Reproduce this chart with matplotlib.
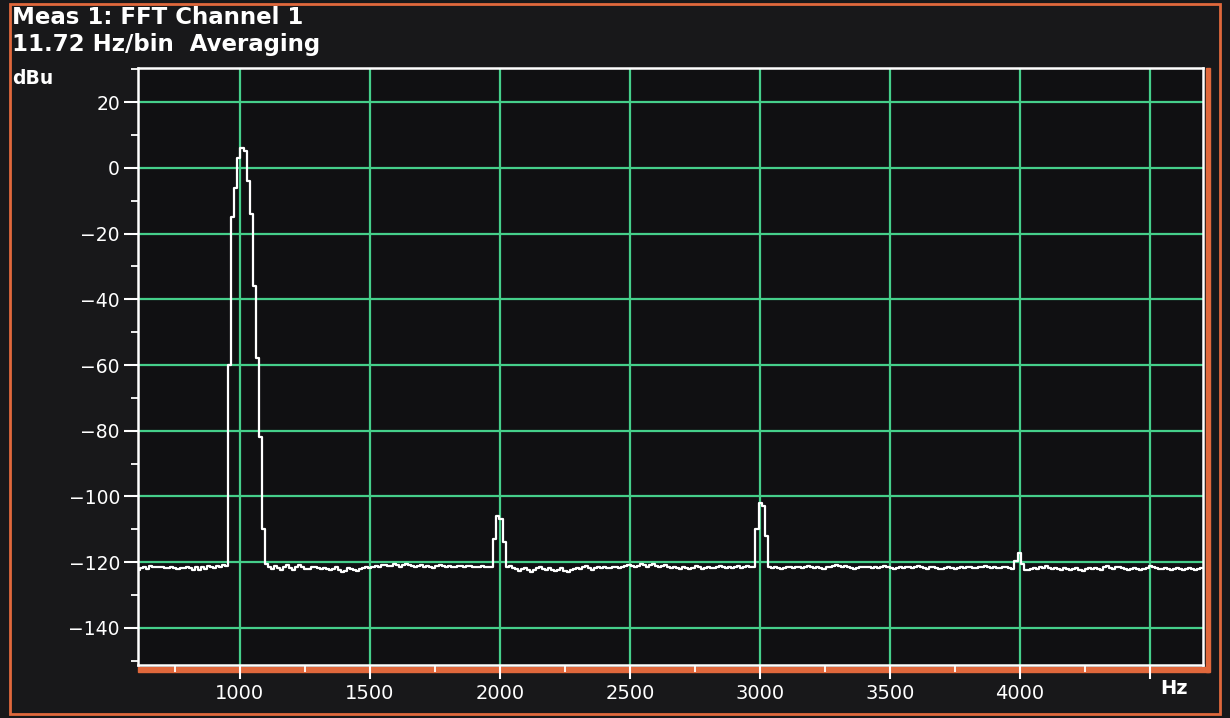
import numpy as np
import matplotlib.pyplot as plt
from matplotlib.patches import Rectangle
from matplotlib.ticker import MultipleLocator

# analyzer settings
bin_hz = 11.72
first_bin = 52

# trace levels in dBu, one per FFT bin
floor_a = [-122.5, -121.8, -121.5, -122.0, -121.2, -121.4, -121.6, -121.6, -121.5, -121.8,
           -121.7, -121.6, -121.9, -122.2, -121.8, -121.7, -121.6, -121.9, -122.4, -121.6,
           -122.3, -121.4, -122.0, -121.3, -121.5, -121.8, -121.2, -121.5, -121.0, -121.3]
peak_1k = [-60, -15, -6, 3, 6, 5, -4, -14, -36, -58, -82, -110, -120.5]
floor_b = [-121.5, -122.0, -121.2, -121.8, -122.4, -121.6, -121.0, -121.9, -122.3, -121.5,
           -120.9, -121.6, -122.2, -122.0, -121.4, -121.6, -121.8, -122.2, -121.7, -122.0,
           -122.3, -122.1, -121.6, -122.4, -122.9, -122.6, -121.8, -122.0, -122.5, -122.8,
           -122.2, -121.7, -121.5, -121.9, -121.4, -121.2, -121.6, -121.0, -120.9, -121.3,
           -121.1, -120.7, -121.0, -121.4, -120.9, -120.5, -121.0, -121.3, -121.6, -121.2,
           -121.0, -121.5, -121.1, -121.4, -121.7, -121.2, -121.0, -121.3, -121.5, -121.2,
           -121.4, -121.6, -121.3, -121.1, -121.5, -121.3, -121.2, -121.6, -121.4, -121.5,
           -121.3, -121.6, -121.4]
peak_2k = [-121.5, -113, -106, -107, -114, -121.5]
floor_c = [-121.2, -121.8, -122.0, -122.6, -122.1, -121.8, -122.4, -122.9, -122.3, -121.7,
           -121.5, -122.0, -122.4, -121.9, -122.3, -122.8, -122.4, -121.9, -122.6, -123.0,
           -122.5, -122.1, -121.8, -122.2, -121.6, -121.3, -121.7, -122.3, -121.9, -121.6,
           -121.8, -121.5, -121.7, -121.9, -121.6, -121.4, -121.8, -121.5, -121.2, -120.8,
           -121.3, -121.6, -121.2, -120.5, -120.9, -121.4, -121.0, -120.6, -121.2, -121.6,
           -121.1, -120.8, -121.5, -121.9, -121.4, -121.7, -122.0, -121.5, -121.8, -122.2,
           -121.7, -121.3, -121.6, -122.0, -121.8, -121.4, -121.7, -121.9, -121.5, -121.2,
           -121.6, -121.8, -121.4, -121.7, -121.5, -121.3, -121.8, -121.6, -121.2, -121.4]
peak_3k = [-121.5, -110, -102, -103, -112, -121.5]
floor_d = [-121.8, -121.5, -121.9, -122.1, -121.7, -121.4, -121.6, -121.9, -121.6, -121.4,
           -121.7, -121.5, -121.3, -121.6, -121.8, -121.5, -121.7, -122.0, -121.6, -121.4,
           -121.2, -120.8, -121.3, -121.6, -121.1, -121.5, -121.9, -122.2, -121.7, -121.5,
           -121.6, -121.4, -121.5, -121.7, -121.6, -121.8, -121.5, -121.3, -121.6, -121.9,
           -122.1, -121.8, -121.5, -121.7, -121.4, -121.6, -121.9, -121.5, -121.3, -121.6,
           -121.8, -122.0, -121.6, -121.4, -121.7, -122.0, -122.2, -121.8, -121.6, -121.9,
           -122.1, -121.7, -121.5, -121.8, -121.6, -121.4, -121.7, -121.9, -121.6, -121.5,
           -121.3, -121.6, -121.8, -121.5, -121.7, -121.9, -121.6, -121.4, -121.7]
peak_4k = [-122.0, -119.5, -117.3, -120.5, -122.5]
floor_e = [-122.4, -122.2, -121.8, -122.0, -121.5, -121.8, -121.3, -121.7, -122.1, -121.9,
           -122.0, -122.3, -121.8, -122.1, -122.5, -122.2, -121.9, -122.3, -122.6, -122.1,
           -121.8, -122.0, -121.7, -122.0, -122.3, -121.6, -121.3, -121.7, -122.0, -121.5,
           -121.4, -121.8, -122.1, -122.4, -122.0, -121.7, -122.0, -122.3, -122.1, -121.8,
           -121.3, -121.6, -121.9, -122.2, -122.0, -121.7, -122.1, -122.4, -122.2, -121.9,
           -122.1, -122.3, -122.0, -121.8, -122.1, -122.3, -122.1, -121.9]

x_major = [1000, 1500, 2000, 2500, 3000, 3500, 4000, 4500]
x_labels = ['1000', '1500', '2000', '2500', '3000', '3500', '4000', '']
y_major = [20, 0, -20, -40, -60, -80, -100, -120, -140]

level = np.concatenate([floor_a, peak_1k, floor_b, peak_2k, floor_c,
                        peak_3k, floor_d, peak_4k, floor_e])
freq = (first_bin + np.arange(len(level))) * bin_hz

W, H = 1230, 718
green = '#45cf8a'
orange = '#e0683c'

fig = plt.figure(figsize=(W / 100, H / 100), dpi=100, facecolor='#18181a')
ax = fig.add_axes([138 / W, 1 - 665 / H, (1203 - 138) / W, (665 - 68) / H])
ax.set_facecolor('#101012')
ax.set_zorder(2)

ax.step(freq, level, where='mid', color='white', lw=1.6, zorder=3)

ax.set_xlim(608, 4704)
ax.set_ylim(-151.3, 30.4)
ax.set_xticks(x_major)
ax.set_xticklabels(x_labels)
ax.set_yticks(y_major)
ax.xaxis.set_minor_locator(MultipleLocator(250))
ax.yaxis.set_minor_locator(MultipleLocator(10))

ax.grid(True, which='major', color=green, lw=1.6)
ax.tick_params(which='major', direction='out', length=10, width=1.5, color='white',
               labelcolor='white', labelsize=13.5, pad=3)
ax.tick_params(which='minor', direction='out', length=5, width=1.3, color='white')
ax.tick_params(axis='x', labelsize=14, pad=4)

for s in ax.spines.values():
    s.set_color('white')
    s.set_linewidth(1.8)

# orange glow under the bottom and right edges of the plot
fig.patches.append(Rectangle((138 / W, 1 - 672 / H), (1209 - 138) / W, 5 / H,
                             transform=fig.transFigure, color=orange, zorder=1))
fig.patches.append(Rectangle((1206 / W, 1 - 672 / H), 4 / W, (672 - 68) / H,
                             transform=fig.transFigure, color=orange, zorder=1))
# screen bezel
fig.patches.append(Rectangle((10 / W, 4 / H), 1210 / W, 710 / H, fill=False,
                             edgecolor=orange, lw=2, transform=fig.transFigure, zorder=1))

fig.text(12 / W, 1 - 17 / H, 'Meas 1: FFT Channel 1', color='white',
         fontsize=16.5, fontweight='bold', va='center', ha='left')
fig.text(12 / W, 1 - 44 / H, '11.72 Hz/bin  Averaging', color='white',
         fontsize=16.5, fontweight='bold', va='center', ha='left')
fig.text(12 / W, 1 - 78 / H, 'dBu', color='white',
         fontsize=13.5, fontweight='bold', va='center', ha='left')
fig.text(1160 / W, 1 - 688 / H, 'Hz', color='white',
         fontsize=14, fontweight='bold', va='center', ha='left')

fig.savefig('out.png', dpi=100, facecolor=fig.get_facecolor())
